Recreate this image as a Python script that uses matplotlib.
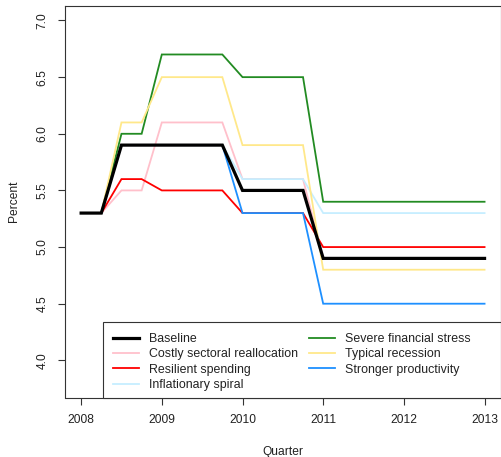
import matplotlib
matplotlib.use("Agg")
import matplotlib.pyplot as plt
from matplotlib.patches import Rectangle

plt.rcParams['font.family'] = ['Liberation Sans', 'DejaVu Sans']

# Quarterly policy-rate paths, 2008Q1 .. 2013Q1
quarters = [2008.00, 2008.25, 2008.50, 2008.75,
            2009.00, 2009.25, 2009.50, 2009.75,
            2010.00, 2010.25, 2010.50, 2010.75,
            2011.00, 2011.25, 2011.50, 2011.75,
            2012.00, 2012.25, 2012.50, 2012.75,
            2013.00]

baseline     = [5.3, 5.3, 5.9, 5.9, 5.9, 5.9, 5.9, 5.9, 5.5, 5.5, 5.5, 5.5,
                4.9, 4.9, 4.9, 4.9, 4.9, 4.9, 4.9, 4.9, 4.9]
costly       = [5.3, 5.3, 5.5, 5.5, 6.1, 6.1, 6.1, 6.1, 5.6, 5.6, 5.6, 5.6,
                4.9, 4.9, 4.9, 4.9, 4.9, 4.9, 4.9, 4.9, 4.9]
resilient    = [5.3, 5.3, 5.6, 5.6, 5.5, 5.5, 5.5, 5.5, 5.3, 5.3, 5.3, 5.3,
                5.0, 5.0, 5.0, 5.0, 5.0, 5.0, 5.0, 5.0, 5.0]
inflationary = [5.3, 5.3, 5.9, 5.9, 5.9, 5.9, 5.9, 5.9, 5.6, 5.6, 5.6, 5.6,
                5.3, 5.3, 5.3, 5.3, 5.3, 5.3, 5.3, 5.3, 5.3]
severe       = [5.3, 5.3, 6.0, 6.0, 6.7, 6.7, 6.7, 6.7, 6.5, 6.5, 6.5, 6.5,
                5.4, 5.4, 5.4, 5.4, 5.4, 5.4, 5.4, 5.4, 5.4]
typical      = [5.3, 5.3, 6.1, 6.1, 6.5, 6.5, 6.5, 6.5, 5.9, 5.9, 5.9, 5.9,
                4.8, 4.8, 4.8, 4.8, 4.8, 4.8, 4.8, 4.8, 4.8]
stronger     = [5.3, 5.3, 5.9, 5.9, 5.9, 5.9, 5.9, 5.9, 5.3, 5.3, 5.3, 5.3,
                4.5, 4.5, 4.5, 4.5, 4.5, 4.5, 4.5, 4.5, 4.5]

scenario_names = ["Costly sectoral reallocation", "Resilient spending",
                  "Inflationary spiral", "Severe financial stress",
                  "Typical recession", "Stronger productivity"]
scenario_values = [costly, resilient, inflationary, severe, typical, stronger]
scenario_colors = ["#FFC0CB", "#FF0000", "#C6EEFF", "#228B22", "#FFE88A", "#1E90FF"]

year_ticks = [2008, 2009, 2010, 2011, 2012, 2013]
pct_ticks = [4.0, 4.5, 5.0, 5.5, 6.0, 6.5, 7.0]

W, H = 502, 457
fig = plt.figure(figsize=(W / 100, H / 100), dpi=100)
left, right, top, bottom = 65.0, 500.7, 6.0, 397.5
ax = fig.add_axes([left / W, 1 - bottom / H, (right - left) / W, (bottom - top) / H])

fs = 12 * 0.72      # axis text, 12 px
lfs = 12.4 * 0.72   # legend text

handles = {}
for name, vals, col in zip(scenario_names, scenario_values, scenario_colors):
    (ln,) = ax.plot(quarters, vals, color=col, lw=1.3, solid_joinstyle='miter')
    handles[name] = ln
(bl,) = ax.plot(quarters, baseline, color="black", lw=2.3, solid_joinstyle='miter')
handles["Baseline"] = bl

ax.set_xlim(2007.8, 2013.2)
ax.set_ylim(3.672, 7.128)
ax.set_xticks(year_ticks)
ax.set_xticklabels([str(y) for y in year_ticks], fontsize=fs, color="#222222")
ax.set_yticks(pct_ticks)
ax.set_yticklabels([f"{v:.1f}" for v in pct_ticks], fontsize=fs, rotation=90,
                   va="center", color="#222222")
ax.tick_params(axis="both", direction="out", length=5.0, width=0.8, color="#333333")
ax.tick_params(axis="x", pad=7)
ax.tick_params(axis="y", pad=7)
for s in ax.spines.values():
    s.set_linewidth(0.8)
    s.set_color("#333333")

ax.set_xlabel("Quarter", fontsize=fs, color="#222222", labelpad=14)
ax.set_ylabel("Percent", fontsize=fs, color="#222222", labelpad=12)


def px_to_axes(px, py):
    return (px - left) / (right - left), (bottom - py) / (bottom - top)


# legend frame
fx, fy = px_to_axes(103.5, 322.0)
ax.add_patch(Rectangle((fx, 0.0), 1.0 - fx, fy, transform=ax.transAxes,
                       facecolor="white", edgecolor="#333333", linewidth=0.8,
                       zorder=4, clip_on=False))

order = ["Baseline", "Costly sectoral reallocation", "Resilient spending",
         "Inflationary spiral", "Severe financial stress", "Typical recession",
         "Stronger productivity"]
ax_, ay_ = px_to_axes(113.0, 333.0)
leg = ax.legend([handles[n] for n in order], order, ncol=2, fontsize=lfs,
                loc="upper left", bbox_to_anchor=(ax_, ay_),
                borderaxespad=0, borderpad=0, frameon=False,
                handlelength=2.1, handletextpad=0.8,
                labelspacing=0.27, columnspacing=0.9)
leg.set_zorder(5)
for t in leg.get_texts():
    t.set_color("#222222")

fig.savefig("out.png", dpi=100)
